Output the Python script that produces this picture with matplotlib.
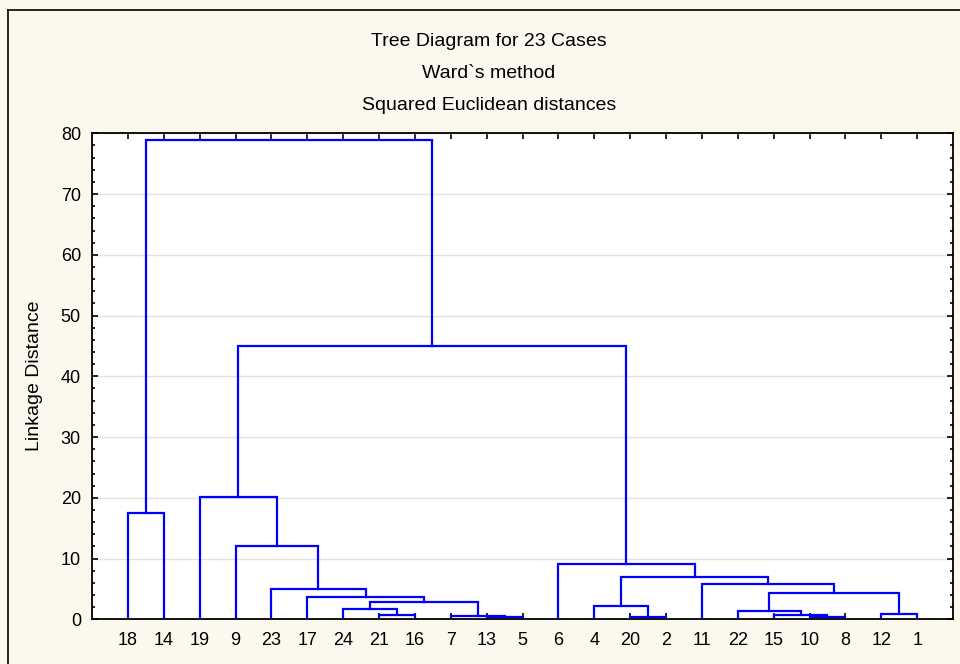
import matplotlib
matplotlib.use("Agg")
import matplotlib.pyplot as plt
from matplotlib.lines import Line2D
from matplotlib.ticker import MultipleLocator

plt.rcParams['font.family'] = ['Liberation Sans', 'DejaVu Sans']

## leaf order along the x axis (case numbers)
leaf_order = ["18", "14", "19", "9", "23", "17", "24", "21", "16", "7", "13", "5",
              "6", "4", "20", "2", "11", "22", "15", "10", "8", "12", "1"]

## merges: (left child, right child, linkage distance)
## children are case numbers or "c<k>" for the k-th merge below
merge_left = ["13", "10", "20", "7", "21", "15", "12", "22", "24", "4",
              "c8", "17", "c7", "23", "11", "c9", "6", "9", "18", "19",
              "c19", "c18"]
merge_right = ["5", "8", "2", "c0", "16", "c1", "1", "c5", "c4", "c2",
               "c3", "c10", "c6", "c11", "c12", "c14", "c15", "c13", "14", "c17",
               "c16", "c20"]
merge_height = [0.43, 0.33, 0.43, 0.54, 0.66, 0.76, 0.87, 1.37, 1.70, 2.24,
                2.85, 3.72, 4.33, 4.94, 5.81, 6.96, 9.15, 12.07, 17.5, 20.1,
                44.99, 78.85]

fig = plt.figure(figsize=(9.6, 6.64), dpi=100)
fig.patch.set_facecolor('#fcf8ee')
ax = fig.add_axes([92 / 960, 1 - 619.3 / 664, (953 - 92) / 960, (619.3 - 133.3) / 664])
ax.set_facecolor('white')

## position of each node: x centre and height
pos = {}
for i, lab in enumerate(leaf_order):
    pos[lab] = (i + 1, 0.0)

for k in range(len(merge_height)):
    xl, hl = pos[merge_left[k]]
    xr, hr = pos[merge_right[k]]
    h = merge_height[k]
    ax.plot([xl, xl, xr, xr], [hl, h, h, hr], color='#0000ff', lw=1.6,
            solid_joinstyle='miter', zorder=2)
    pos["c%d" % k] = ((xl + xr) / 2.0, h)

ax.set_xlim(0, 24)
ax.set_ylim(0, 80)
ax.set_xticks(range(1, len(leaf_order) + 1))
ax.set_xticklabels(leaf_order)
ax.yaxis.set_major_locator(MultipleLocator(10))
ax.yaxis.set_minor_locator(MultipleLocator(2))
ax.tick_params(axis='both', which='major', direction='in', length=4, width=1.2,
               top=True, right=True, labelsize=13, colors='black')
ax.tick_params(axis='x', which='major', pad=9)
ax.tick_params(axis='y', which='major', pad=8)
ax.tick_params(axis='y', which='minor', direction='in', length=2, width=1.2,
               left=True, right=True)
ax.grid(axis='y', color='#e2e2e2', lw=1.0, zorder=0)
ax.set_axisbelow(True)
for s in ax.spines.values():
    s.set_linewidth(1.3)
    s.set_zorder(3)

fig.text(35 / 960, 1 - 376 / 664, "Linkage Distance", rotation=90,
         ha='center', va='center', fontsize=14)

titles = ["Tree Diagram for 23 Cases", "Ward`s method", "Squared Euclidean distances"]
for i, t in enumerate(titles):
    fig.text(489 / 960, 1 - (41 + 32 * i) / 664, t, ha='center', va='center', fontsize=14)

## outer frame (left and top edge visible)
fig.add_artist(Line2D([8 / 960, 8 / 960], [0, 1 - 10 / 664], color='black', lw=1.2,
                      transform=fig.transFigure))
fig.add_artist(Line2D([8 / 960, 1], [1 - 10 / 664, 1 - 10 / 664], color='black', lw=1.2,
                      transform=fig.transFigure))

fig.savefig("out.png", dpi=100, facecolor=fig.get_facecolor())
